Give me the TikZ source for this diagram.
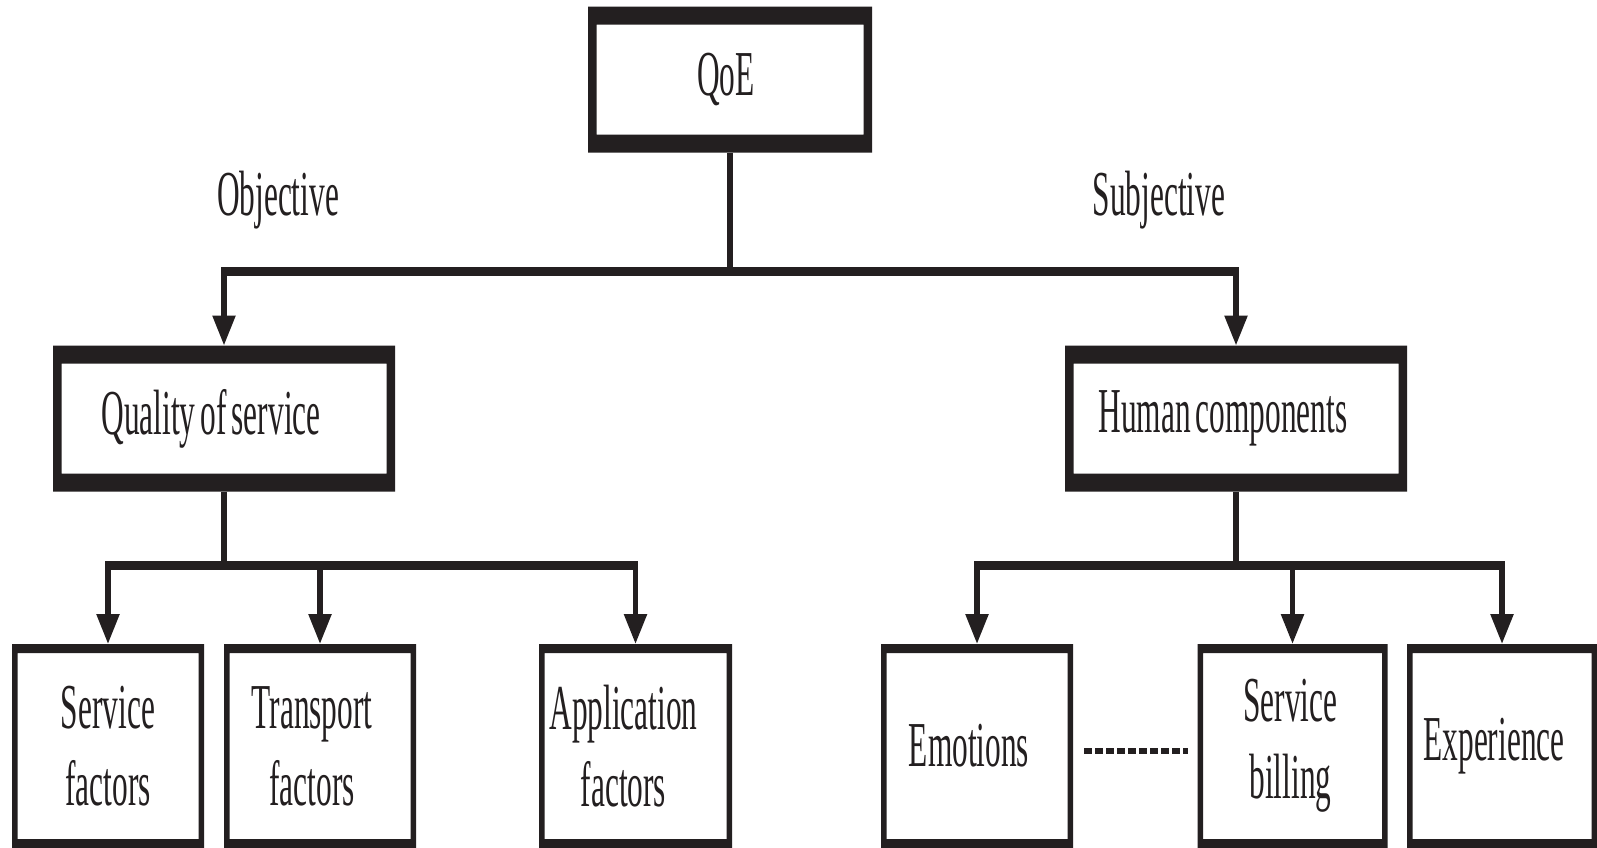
\documentclass[tikz,border=0pt]{standalone}
\usepackage{fontspec}
\newfontfamily\condserif[FakeStretch=0.49, WordSpace=0.65]{Liberation Serif}
\usetikzlibrary{arrows.meta}
\definecolor{ink}{HTML}{231F20}
% trailing room that moves a line of box text slightly to the left
\newcommand\trail[1][16pt]{\hspace*{#1}}
\begin{document}
\begin{tikzpicture}[x=1pt,y=-1pt,
  txt/.style={font=\condserif\fontsize{64}{77}\selectfont, text=ink},
  % box whose top and bottom edges are heavier than its sides
  framebox/.style 2 args={txt, inner sep=0pt, outer sep=0pt, fill=white, align=center,
    path picture={\fill[ink,even odd rule]
      (path picture bounding box.south west) rectangle (path picture bounding box.north east)
      ([xshift=#2,yshift=#1]path picture bounding box.south west) rectangle
      ([xshift=-#2,yshift=-#1]path picture bounding box.north east);}},
  topbox/.style={framebox={18pt}{8.5pt}, minimum width=#1, minimum height=146pt},
  leafbox/.style={framebox={9pt}{5.5pt}, minimum width=#1, minimum height=204pt},
  lbl/.style={txt, inner sep=0pt},
  stem/.style={draw=ink, line width=5.5pt},
  bar/.style={draw=ink, line width=9pt, shorten <=-2.75pt, shorten >=-2.75pt},
  arr/.style={-{Triangle[length=30pt,width=22pt]}},
  dots/.style={draw=ink, line width=6pt, dash pattern=on 8pt off 3pt}
]
\useasboundingbox (0,0) rectangle (1597,847);
\clip (0,0) rectangle (1597,847);
\fill[white] (0,0) rectangle (1597,847);

% levels of the tree
\node[topbox=284pt] (qoe) at (730,79.5) {QoE\trail[8pt]};
\node[topbox=342pt] (qos) at (224,418.5) {Quality of service\trail[26pt]};
\node[topbox=342pt] (hc)  at (1236,418.5) {Human components\trail[26pt]};

\node[leafbox=192pt] (sf) at (108,746)    {Service\\factors};
\node[leafbox=192pt] (tf) at (320,746)    {Transport\trail\\factors\trail};
\node[leafbox=193pt] (af) at (635.5,746)  {Application\trail[24pt]\\factors\trail[24pt]};
\node[leafbox=192pt] (em) at (977,746)    {Emotions\trail};
\node[leafbox=190pt] (sb) at (1292.5,746) {Service\trail[4pt]\\billing\trail[4pt]};
\node[leafbox=190pt] (ex) at (1502,746)   {Experience\trail};

\node[lbl, anchor=base] (obj)  at (278,215)  {Objective};
\node[lbl, anchor=base] (subj) at (1159,215) {Subjective};

% heights of the horizontal bars
\coordinate (barA) at (0,271);
\coordinate (barB) at (0,565);

% QoE to its two branches
\draw[stem] (qoe.south) -- (qoe.south |- barA);
\draw[bar] (qos.north |- barA) -- (hc.north |- barA);
\draw[stem,arr] (qos.north |- barA) -- (qos.north);
\draw[stem,arr] (hc.north |- barA) -- (hc.north);

% objective factors
\draw[stem] (qos.south) -- (qos.south |- barB);
\draw[bar] (sf.north |- barB) -- (af.north |- barB);
\draw[stem,arr] (sf.north |- barB) -- (sf.north);
\draw[stem,arr] (tf.north |- barB) -- (tf.north);
\draw[stem,arr] (af.north |- barB) -- (af.north);

% subjective factors
\draw[stem] (hc.south) -- (hc.south |- barB);
\draw[bar] (em.north |- barB) -- (ex.north |- barB);
\draw[stem,arr] (em.north |- barB) -- (em.north);
\draw[stem,arr] (sb.north |- barB) -- (sb.north);
\draw[stem,arr] (ex.north |- barB) -- (ex.north);

% omitted items between the first and the last human factors
\draw[dots] ([xshift=11pt,yshift=-5pt]em.east) -- ([xshift=-10pt,yshift=-5pt]sb.west);
\end{tikzpicture}
\end{document}
